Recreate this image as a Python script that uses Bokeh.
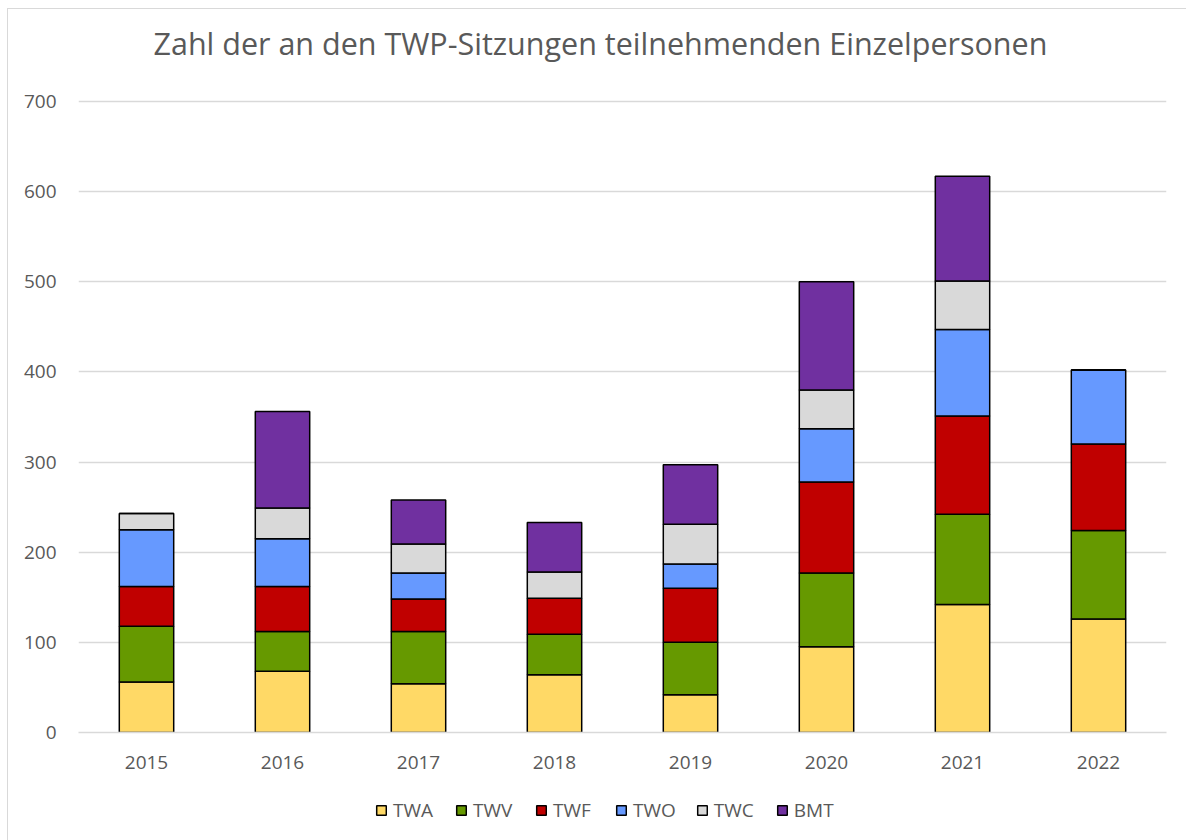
from bokeh.plotting import figure
from bokeh.layouts import column
from bokeh.models import Legend, LegendItem, FactorRange
from bokeh.embed import file_html
from bokeh.resources import INLINE

years = ["2015", "2016", "2017", "2018", "2019", "2020", "2021", "2022"]
series = ["TWA", "TWV", "TWF", "TWO", "TWC", "BMT"]
TWA = [56, 68, 54, 64, 42, 95, 142, 126]
TWV = [62, 44, 58, 45, 58, 82, 100, 98]
TWF = [44, 50, 36, 40, 60, 101, 109, 96]
TWO = [63, 53, 29, 0, 27, 59, 96, 82]
TWC = [18, 34, 32, 29, 44, 43, 54, 0]
BMT = [0, 107, 49, 55, 66, 120, 116, 0]
y_ticks = [0, 100, 200, 300, 400, 500, 600, 700]
colors = ["#FFD966", "#669900", "#C00000", "#6699FF", "#D9D9D9", "#7030A0"]
title_text = "Zahl der an den TWP-Sitzungen teilnehmenden Einzelpersonen"

data = {"years": years, "TWA": TWA, "TWV": TWV, "TWF": TWF, "TWO": TWO, "TWC": TWC, "BMT": BMT}
# proxy source for the legend strip (no visible bars, only legend swatches)
proxy = {"years": years[:1], **{s: [float("nan")] for s in series}}

FONT = "Open Sans"
GRAY = "#595959"

xr = FactorRange(*years, range_padding=0)

p = figure(x_range=xr, y_range=(0, 736.6),
           width=1178, height=781, output_backend="svg", toolbar_location=None,
           min_border_left=70, min_border_right=20, min_border_top=59, min_border_bottom=58)

renderers = p.vbar_stack(series, x="years", width=0.4, source=data, color=colors,
                         line_color="black", line_width=1.5)

p.title.text = title_text
p.title.align = "left"
p.title.offset = 75
p.title.vertical_align = "bottom"
p.title.text_font = FONT
p.title.text_font_size = "30.5px"
p.title.text_font_style = "normal"
p.title.text_color = GRAY
p.title.standoff = 10

p.outline_line_color = None
p.xgrid.grid_line_color = None
p.ygrid.grid_line_color = "#D9D9D9"
p.ygrid.grid_line_width = 1.5
p.yaxis.ticker = y_ticks

for ax in (p.xaxis, p.yaxis):
    ax.axis_line_color = None
    ax.major_tick_line_color = None
    ax.minor_tick_line_color = None
    ax.major_label_text_font = FONT
    ax.major_label_text_font_size = "19px"
    ax.major_label_text_color = GRAY
p.xaxis.major_label_standoff = 17
p.yaxis.major_label_standoff = 16
p.xaxis.axis_line_color = "#D9D9D9"
p.xaxis.axis_line_width = 1.5

# legend strip below the chart
lp = figure(x_range=xr, y_range=(0, 1), width=1178, height=50,
            output_backend="svg", toolbar_location=None,
            x_axis_location=None, y_axis_location=None, min_border=0)
lp.grid.visible = False
lp.outline_line_color = None
lrs = lp.vbar_stack(series, x="years", width=0.4, source=proxy, color=colors,
                    line_color="black", line_width=1.5)
items = [LegendItem(label=s, renderers=[r]) for s, r in zip(series, lrs)]
legend = Legend(items=items, orientation="horizontal", location=(297, 17),
                label_text_font=FONT, label_text_font_size="19px", label_text_color=GRAY,
                glyph_width=12, glyph_height=12, spacing=20, label_standoff=6, label_width=42,
                border_line_color=None, background_fill_alpha=0, padding=0, margin=0)
lp.add_layout(legend, "center")

layout = column(p, lp, spacing=0, margin=(8, 0, 0, 7),
                styles={"border-left": "1px solid #D9D9D9", "border-top": "1px solid #D9D9D9"})

open("out.html", "w").write(file_html(layout, INLINE))
